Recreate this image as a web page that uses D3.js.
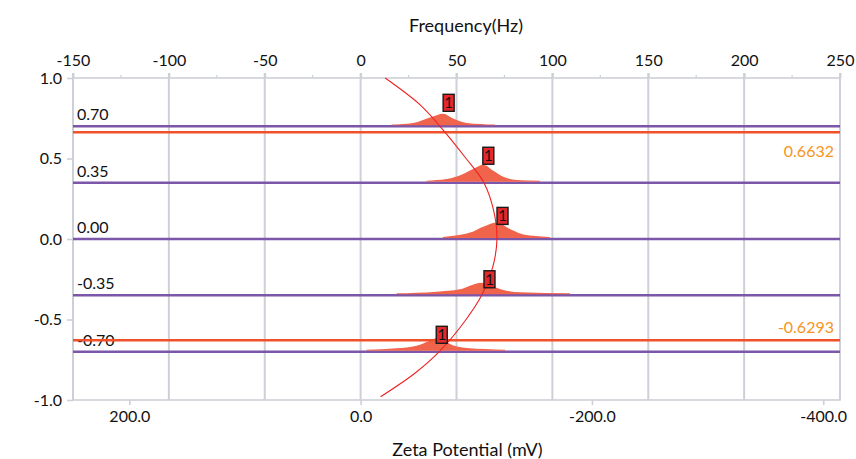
<!DOCTYPE html>
<html>
<head>
<meta charset="utf-8">
<script src="https://cdn.jsdelivr.net/npm/d3@7"></script>
<style>
  html, body { margin: 0; padding: 0; background: #fff; }
  svg { display: block; font-family: Lato, "Open Sans", sans-serif; }
</style>
</head>
<body>
<svg id="chart" width="856" height="459"></svg>
<script>
// ---------------- data ----------------
const rowDepths = [0.70, 0.35, 0.00, -0.35, -0.70];
const rowLabels = ["0.70", "0.35", "0.00", "-0.35", "-0.70"];

const peakHz = [
  [16.2, 27.4, 37.0, 43.1, 48.3, 55.3, 70.0],
  [34.4, 44.9, 53.5, 59.6, 63.9, 69.2, 74.4, 81.4, 93.5],
  [42.9, 51.9, 58.8, 63.9, 70.9, 77.9, 83.1, 90.0, 98.7],
  [18.8, 39.6, 51.8, 57.0, 63.1, 69.2, 76.1, 83.1, 109.2],
  [3.1, 18.8, 29.2, 36.1, 41.4, 46.6, 55.3, 75.3]
];
const peakAmp = [
  [4, 12, 42, 58, 34, 12, 4],
  [5, 13, 38, 68, 85, 55, 25, 8, 5],
  [5, 16, 33, 56, 78, 45, 23, 11, 5],
  [5, 13, 25, 43, 58, 38, 18, 10, 5],
  [5, 12, 25, 50, 67, 33, 13, 5]
];
const markerHz = [45.9, 66.6, 74.0, 67.2, 42.3];
const markerAmp = [75, 92, 73, 38, 42];
const markerText = ["1", "1", "1", "1", "1"];

const refValues = [0.6632, -0.6293];
const refLabels = ["0.6632", "-0.6293"];

const curveDepth = [1.0, 0.835, 0.70, 0.5, 0.35, 0.17, 0.0, -0.17, -0.35, -0.5, -0.70, -0.834, -0.98];
const curveHz    = [12.8, 30.9, 41.4, 55.0, 64.3, 69.5, 71.1, 69.0, 63.1, 55.0, 41.0, 28.3, 10.4];

const hzDomain = [-150, 250];
const mvPerHz = -1.658;
const topMajorTicks = [-150, -100, -50, 0, 50, 100, 150, 200, 250];
const topMinorTicks = [-125, -75, -25, 25, 75, 125, 175, 225];
const bottomTicks = [200, 0, -200, -400];
const leftTicks = [1.0, 0.5, 0.0, -0.5, -1.0];
const topTitle = "Frequency(Hz)";
const bottomTitle = "Zeta Potential (mV)";

// ---------------- layout ----------------
const W = 856, H = 459;
const m = { left: 73, right: 16, top: 78, bottom: 59 };
const x0 = m.left, x1 = W - m.right, y0 = m.top, y1 = H - m.bottom;

const svg = d3.select("#chart");
const xHz = d3.scaleLinear().domain(hzDomain).range([x0, x1]);
const xMv = d3.scaleLinear().domain(hzDomain.map(d => d * mvPerHz)).range([x0, x1]);
const y = d3.scaleLinear().domain([-1, 1]).range([y1, y0]);
const amp = d3.scaleLinear().domain([0, 100]).range([0, 20]);

const hy = f => (d => f(d).replace("\u2212", "-"));
const fmtInt = hy(d3.format("d"));
const fmt1 = hy(d3.format(".1f"));

const GRID = "#cdd0d6";
const PURPLE = "#7b56a9";
const ORANGE_LINE = "#f0502a";
const FILL = "#f0644c";
const RED = "#ee2222";
const LABEL_ORANGE = "#f7941d";
const TXT = "#111";

// vertical gridlines
svg.append("g").selectAll("line").data(topMajorTicks).join("line")
  .attr("x1", d => xHz(d)).attr("x2", d => xHz(d))
  .attr("y1", y0 - 5).attr("y2", y1)
  .attr("stroke", GRID).attr("stroke-width", 2);

// frame
svg.append("rect").attr("x", x0).attr("y", y0).attr("width", x1 - x0).attr("height", y1 - y0)
  .attr("fill", "none").attr("stroke", GRID).attr("stroke-width", 1.6);

// top axis
const topAxis = svg.append("g").attr("transform", `translate(0,${y0})`)
  .call(d3.axisTop(xHz).tickValues(topMajorTicks).tickSize(5).tickPadding(7).tickFormat(fmtInt));
topAxis.select(".domain").remove();
topAxis.selectAll(".tick line").attr("stroke", GRID).attr("stroke-width", 2);
topAxis.selectAll("text").attr("font-size", 16).attr("fill", TXT).attr("font-family", "Lato");
svg.append("g").selectAll("line").data(topMinorTicks).join("line")
  .attr("x1", d => xHz(d)).attr("x2", d => xHz(d))
  .attr("y1", y0 - 3).attr("y2", y0)
  .attr("stroke", GRID).attr("stroke-width", 1.2);

// left axis
const leftAxis = svg.append("g").attr("transform", `translate(${x0},0)`)
  .call(d3.axisLeft(y).tickValues(leftTicks).tickSize(6).tickPadding(5).tickFormat(fmt1));
leftAxis.select(".domain").remove();
leftAxis.selectAll(".tick line").attr("stroke", GRID).attr("stroke-width", 1.6);
leftAxis.selectAll("text").attr("font-size", 16).attr("fill", TXT).attr("font-family", "Lato");

// bottom axis
const bottomAxis = svg.append("g").attr("transform", `translate(0,${y1})`)
  .call(d3.axisBottom(xMv).tickValues(bottomTicks).tickSize(5).tickPadding(6).tickFormat(fmt1));
bottomAxis.select(".domain").remove();
bottomAxis.selectAll(".tick line").attr("stroke", GRID).attr("stroke-width", 1.6);
bottomAxis.selectAll("text").attr("font-size", 16).attr("fill", TXT).attr("font-family", "Lato");

// titles
svg.append("text").attr("x", 466).attr("y", 32).attr("text-anchor", "middle")
  .attr("font-size", 18).attr("fill", TXT).text(topTitle);
svg.append("text").attr("x", 467.5).attr("y", 456).attr("text-anchor", "middle")
  .attr("font-size", 18).attr("fill", TXT).text(bottomTitle);

// purple baseline lines
svg.append("g").selectAll("line").data(rowDepths).join("line")
  .attr("x1", x0).attr("x2", x1)
  .attr("y1", d => y(d)).attr("y2", d => y(d))
  .attr("stroke", PURPLE).attr("stroke-width", 2.5);

// row labels
svg.append("g").selectAll("text").data(rowDepths).join("text")
  .attr("x", x0 + 4).attr("y", d => y(d) - 6)
  .attr("font-size", 16).attr("fill", TXT)
  .text((d, i) => rowLabels[i]);

// peaks
const area = d3.area()
  .x(p => xHz(p.hz))
  .y0(p => p.base)
  .y1(p => p.base - amp(p.a))
  .curve(d3.curveMonotoneX);
svg.append("g").selectAll("path").data(rowDepths).join("path")
  .attr("d", (d, i) => {
    const pts = peakHz[i].map((hz, j) => ({ hz, a: peakAmp[i][j], base: y(d) - 1 }));
    return area(pts);
  })
  .attr("fill", FILL);

// orange reference lines
svg.append("g").selectAll("line").data(refValues).join("line")
  .attr("x1", x0).attr("x2", x1)
  .attr("y1", d => y(d)).attr("y2", d => y(d))
  .attr("stroke", ORANGE_LINE).attr("stroke-width", 2.5);

// red profile curve
const line = d3.line()
  .x((d, i) => xHz(curveHz[i]))
  .y(d => y(d))
  .curve(d3.curveCatmullRom);
svg.append("path").datum(curveDepth)
  .attr("d", line)
  .attr("fill", "none").attr("stroke", RED).attr("stroke-width", 1.1);

// markers
const mk = svg.append("g").selectAll("g").data(rowDepths).join("g")
  .attr("transform", (d, i) => `translate(${xHz(markerHz[i])},${y(d) - amp(markerAmp[i])})`);
mk.append("rect").attr("x", -5.5).attr("y", -17).attr("width", 11).attr("height", 17)
  .attr("fill", "#e5282a").attr("stroke", "#1a1a1a").attr("stroke-width", 1.4);
mk.append("text").attr("x", 0).attr("y", -3).attr("text-anchor", "middle")
  .attr("font-size", 15).attr("fill", "#111")
  .text((d, i) => markerText[i]);

// orange reference labels
svg.append("g").selectAll("text").data(refValues).join("text")
  .attr("x", 834).attr("y", d => d > 0 ? y(d) + 24.5 : y(d) - 7.5)
  .attr("text-anchor", "end").attr("font-size", 16).attr("fill", LABEL_ORANGE)
  .text((d, i) => refLabels[i]);
</script>
</body>
</html>
